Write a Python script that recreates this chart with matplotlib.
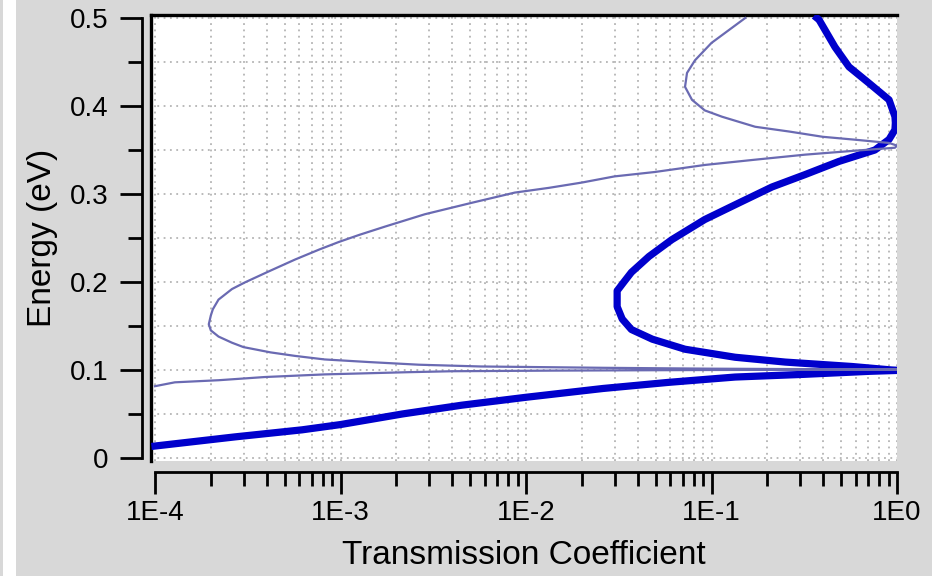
import matplotlib
matplotlib.use("Agg")
import matplotlib.pyplot as plt
from matplotlib.patches import Rectangle
from matplotlib.ticker import FixedLocator, FuncFormatter, LogLocator, MultipleLocator, NullFormatter

plt.rcParams['font.family'] = ['Liberation Sans', 'DejaVu Sans']

# transmission vs energy, single barrier-like curve (thin) and resonant structure (thick)
thin_T = [1.0e-4, 1.28e-4, 2.21e-4, 3.9e-4, 8.2e-4, 2.3e-3, 4.0e-3, 1.4e-2, 0.1, 1.0,
          0.1, 0.026, 5.7e-3, 2.65e-3, 1.43e-3, 8.2e-4, 5.7e-4, 4.2e-4, 3.0e-4, 2.6e-4,
          2.2e-4, 2.0e-4, 1.95e-4, 2.0e-4, 2.05e-4, 2.2e-4, 2.6e-4, 3.05e-4, 4.1e-4, 5.7e-4,
          7.7e-4, 9.8e-4, 1.26e-3, 1.74e-3, 2.85e-3, 5.1e-3, 8.7e-3, 1.33e-2, 2.0e-2, 3.0e-2,
          4.95e-2, 9.2e-2, 0.172, 0.319, 0.594, 0.975, 1.0, 0.906, 0.594, 0.398,
          0.262, 0.172, 0.114, 0.092, 0.0785, 0.072, 0.0738, 0.0815, 0.1, 0.152]
thin_E = [0.0816, 0.086, 0.0884, 0.092, 0.095, 0.0975, 0.0986, 0.0993, 0.100, 0.1005,
          0.1015, 0.1025, 0.104, 0.106, 0.109, 0.112, 0.116, 0.120, 0.126, 0.131,
          0.138, 0.145, 0.152, 0.162, 0.169, 0.180, 0.192, 0.1995, 0.212, 0.2256,
          0.237, 0.2455, 0.2535, 0.263, 0.277, 0.290, 0.3016, 0.307, 0.313, 0.320,
          0.325, 0.333, 0.339, 0.3447, 0.3492, 0.3526, 0.355, 0.358, 0.3617, 0.365,
          0.371, 0.3764, 0.3878, 0.395, 0.407, 0.4218, 0.4376, 0.452, 0.4717, 0.5]

thick_T = [1.0e-4, 2.7e-4, 6.2e-4, 1.0e-3, 2.15e-3, 4.5e-3, 1.0e-2, 2.6e-2, 5.9e-2, 0.134,
           0.31, 0.71, 1.0, 0.57, 0.25, 0.134, 0.072, 0.048, 0.037, 0.033,
           0.031, 0.031, 0.0337, 0.037, 0.046, 0.061, 0.092, 0.141, 0.212, 0.319,
           0.486, 0.76, 0.906, 0.975, 0.98, 0.975, 0.906, 0.706, 0.551, 0.463,
           0.38, 0.37]
thick_E = [0.0136, 0.024, 0.032, 0.038, 0.050, 0.060, 0.069, 0.079, 0.086, 0.092,
           0.095, 0.0985, 0.0995, 0.104, 0.109, 0.1145, 0.1236, 0.135, 0.146, 0.158,
           0.172, 0.190, 0.200, 0.211, 0.229, 0.248, 0.271, 0.290, 0.308, 0.322,
           0.337, 0.350, 0.362, 0.373, 0.381, 0.388, 0.407, 0.426, 0.4445, 0.467,
           0.498, 0.5]

x_ticks = [1e-4, 1e-3, 1e-2, 1e-1, 1e0]
x_labels = ['1E-4', '1E-3', '1E-2', '1E-1', '1E0']
y_ticks = [0, 0.1, 0.2, 0.3, 0.4, 0.5]

bg = '#d8d8d8'
fig = plt.figure(figsize=(9.32, 5.76), dpi=100, facecolor=bg)
fig.patches.append(Rectangle((3 / 932, 0), 13 / 932, 1, transform=fig.transFigure,
                             facecolor='white', edgecolor='none', zorder=0))

W, H = 932, 576
ax = fig.add_axes([151 / W, 1 - 461 / H, 746 / W, 446 / H])
ax.set_facecolor('white')
ax.set_xscale('log')
# small white margin around the data range
ax.set_xlim(10 ** (-4 - 4 / 185.5), 1.0)
ax.set_ylim(-3 * 0.5 / 440, 0.5 + 3 * 0.5 / 440)

ax.plot(thick_T, thick_E, color='#0000cc', lw=5.2, solid_joinstyle='round', zorder=3)
ax.plot(thin_T, thin_E, color='#6a6ab2', lw=1.6, zorder=4)

# frame: thick top line, left edge drawn by moving the right spine over
ax.spines['top'].set_linewidth(2.4)
ax.spines['top'].set_color('black')
ax.spines['right'].set_position(('axes', 0.0))
ax.spines['right'].set_linewidth(2.4)
ax.spines['left'].set_position(('outward', 6.5))
ax.spines['left'].set_bounds(0, 0.5)
ax.spines['bottom'].set_position(('outward', 8))
ax.spines['bottom'].set_bounds(1e-4, 1.0)
for s in ('left', 'bottom'):
    ax.spines[s].set_linewidth(2.0)

ax.xaxis.set_major_locator(FixedLocator(x_ticks))
ax.xaxis.set_major_formatter(FuncFormatter(lambda v, p: x_labels[x_ticks.index(v)] if v in x_ticks else ''))
ax.xaxis.set_minor_locator(LogLocator(base=10, subs=range(2, 10)))
ax.xaxis.set_minor_formatter(NullFormatter())
ax.yaxis.set_major_locator(FixedLocator(y_ticks))
ax.yaxis.set_major_formatter(FuncFormatter(lambda v, p: '0' if v == 0 else f'{v:.1f}'))
ax.yaxis.set_minor_locator(MultipleLocator(0.05))

ax.tick_params(which='major', direction='out', length=16, width=2, labelsize=20, colors='black')
ax.tick_params(which='minor', direction='out', length=10, width=2)
ax.tick_params(axis='y', which='major', pad=8)
ax.tick_params(axis='x', which='major', pad=4)
ax.tick_params(right=False, top=False, which='both')

ax.grid(True, which='both', color='#b4b4b4', linestyle=(0, (1, 2.5)), linewidth=1.3)
ax.set_axisbelow(True)

ax.set_xlabel('Transmission Coefficient', fontsize=24, labelpad=10)
ax.set_ylabel('Energy (eV)', fontsize=24, labelpad=9)

fig.savefig('out.png', dpi=100, facecolor=bg)
